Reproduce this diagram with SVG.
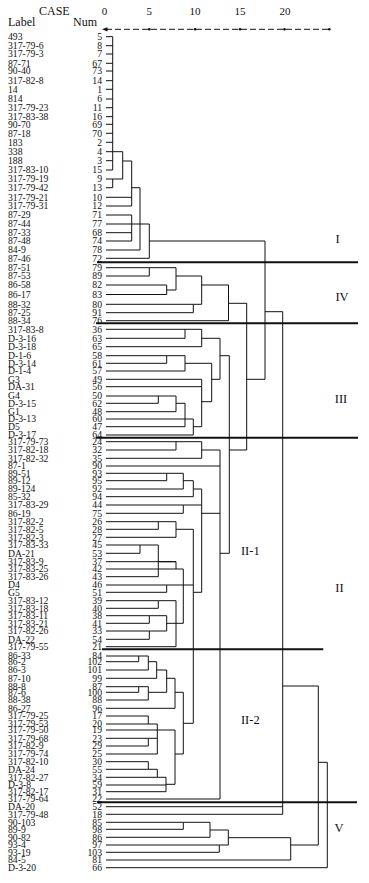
<svg xmlns="http://www.w3.org/2000/svg" width="369" height="883" viewBox="0 0 369 883">
<style>
text{font-family:"Liberation Serif","Times New Roman",serif;fill:#111}
.lb{font-size:9.7px}
.nm{font-size:9.7px;text-anchor:end}
.hd{font-size:12px}
.ax{font-size:11px;text-anchor:middle}
.cl{font-size:12.5px;text-anchor:middle}
.ln{fill:none;stroke:#111;stroke-width:1}
.sep{fill:none;stroke:#111;stroke-width:2}
.axl{fill:none;stroke:#111;stroke-width:1;stroke-dasharray:6 3}
</style>
<rect width="369" height="883" fill="#fff"/>
<g id="header">
<text class="hd" x="39" y="15">CASE</text>
<text class="hd" x="8" y="26">Label</text>
<text class="hd" x="73" y="26">Num</text>
<text class="ax" x="104.5" y="15">0</text>
<text class="ax" x="149.3" y="15">5</text>
<text class="ax" x="195" y="15">10</text>
<text class="ax" x="240" y="15">15</text>
<text class="ax" x="285" y="15">20</text>
<path class="axl" d="M106 29.3H329.3"/>
<polygon points="102,29.3 107.5,27.2 107.5,31.4" fill="#111"/>
<g fill="#111"><circle cx="149.3" cy="29.3" r="1.3"/><circle cx="195" cy="29.3" r="1.3"/><circle cx="240" cy="29.3" r="1.3"/><circle cx="284.5" cy="29.3" r="1.3"/><circle cx="329.3" cy="29.3" r="1.3"/></g>
</g>
<g id="leaves">
<g id="case-5"><text class="lb" x="8" y="40">493</text><text class="nm" x="102" y="40">5</text></g>
<g id="case-8"><text class="lb" x="8" y="49">317-79-6</text><text class="nm" x="102" y="49">8</text></g>
<g id="case-7"><text class="lb" x="8" y="57.3">317-79-3</text><text class="nm" x="102" y="57.3">7</text></g>
<g id="case-67"><text class="lb" x="8" y="66.6">87-71</text><text class="nm" x="102" y="66.6">67</text></g>
<g id="case-73"><text class="lb" x="8" y="74.3">90-40</text><text class="nm" x="102" y="74.3">73</text></g>
<g id="case-14"><text class="lb" x="8" y="84">317-82-8</text><text class="nm" x="102" y="84">14</text></g>
<g id="case-1"><text class="lb" x="8" y="92.6">14</text><text class="nm" x="102" y="92.6">1</text></g>
<g id="case-6"><text class="lb" x="8" y="102.3">814</text><text class="nm" x="102" y="102.3">6</text></g>
<g id="case-11"><text class="lb" x="8" y="111">317-79-23</text><text class="nm" x="102" y="111">11</text></g>
<g id="case-16"><text class="lb" x="8" y="120">317-83-38</text><text class="nm" x="102" y="120">16</text></g>
<g id="case-69"><text class="lb" x="8" y="127.6">90-70</text><text class="nm" x="102" y="127.6">69</text></g>
<g id="case-70"><text class="lb" x="8" y="136.6">87-18</text><text class="nm" x="102" y="136.6">70</text></g>
<g id="case-2"><text class="lb" x="8" y="145.6">183</text><text class="nm" x="102" y="145.6">2</text></g>
<g id="case-4"><text class="lb" x="8" y="155">338</text><text class="nm" x="102" y="155">4</text></g>
<g id="case-3"><text class="lb" x="8" y="164">188</text><text class="nm" x="102" y="164">3</text></g>
<g id="case-15"><text class="lb" x="8" y="173.3">317-83-10</text><text class="nm" x="102" y="173.3">15</text></g>
<g id="case-9"><text class="lb" x="8" y="182.3">317-79-19</text><text class="nm" x="102" y="182.3">9</text></g>
<g id="case-13"><text class="lb" x="8" y="191">317-79-42</text><text class="nm" x="102" y="191">13</text></g>
<g id="case-10"><text class="lb" x="8" y="200.6">317-79-21</text><text class="nm" x="102" y="200.6">10</text></g>
<g id="case-12"><text class="lb" x="8" y="209.3">317-79-31</text><text class="nm" x="102" y="209.3">12</text></g>
<g id="case-71"><text class="lb" x="8" y="218.3">87-29</text><text class="nm" x="102" y="218.3">71</text></g>
<g id="case-77"><text class="lb" x="8" y="227.3">87-44</text><text class="nm" x="102" y="227.3">77</text></g>
<g id="case-68"><text class="lb" x="8" y="236">87-33</text><text class="nm" x="102" y="236">68</text></g>
<g id="case-74"><text class="lb" x="8" y="244.3">87-48</text><text class="nm" x="102" y="244.3">74</text></g>
<g id="case-78"><text class="lb" x="8" y="253.3">84-9</text><text class="nm" x="102" y="253.3">78</text></g>
<g id="case-72"><text class="lb" x="8" y="261.6">87-46</text><text class="nm" x="102" y="261.6">72</text></g>
<g id="case-79"><text class="lb" x="8" y="271">87-51</text><text class="nm" x="102" y="271">79</text></g>
<g id="case-89"><text class="lb" x="8" y="279.3">87-53</text><text class="nm" x="102" y="279.3">89</text></g>
<g id="case-82"><text class="lb" x="8" y="288.3">86-58</text><text class="nm" x="102" y="288.3">82</text></g>
<g id="case-83"><text class="lb" x="8" y="297.8">86-17</text><text class="nm" x="102" y="297.8">83</text></g>
<g id="case-80"><text class="lb" x="8" y="307.6">88-32</text><text class="nm" x="102" y="307.6">80</text></g>
<g id="case-91"><text class="lb" x="8" y="316">87-25</text><text class="nm" x="102" y="316">91</text></g>
<g id="case-76"><text class="lb" x="8" y="324">88-34</text><text class="nm" x="102" y="324">76</text></g>
<g id="case-36"><text class="lb" x="8" y="332.6">317-83-8</text><text class="nm" x="102" y="332.6">36</text></g>
<g id="case-63"><text class="lb" x="8" y="341.6">D-3-16</text><text class="nm" x="102" y="341.6">63</text></g>
<g id="case-65"><text class="lb" x="8" y="350">D-3-18</text><text class="nm" x="102" y="350">65</text></g>
<g id="case-58"><text class="lb" x="8" y="359">D-1-6</text><text class="nm" x="102" y="359">58</text></g>
<g id="case-61"><text class="lb" x="8" y="366.6">D-3-14</text><text class="nm" x="102" y="366.6">61</text></g>
<g id="case-57"><text class="lb" x="8" y="374.3">D-1-4</text><text class="nm" x="102" y="374.3">57</text></g>
<g id="case-49"><text class="lb" x="8" y="382.6">G3</text><text class="nm" x="102" y="382.6">49</text></g>
<g id="case-56"><text class="lb" x="8" y="390">DA-31</text><text class="nm" x="102" y="390">56</text></g>
<g id="case-50"><text class="lb" x="8" y="399.3">G4</text><text class="nm" x="102" y="399.3">50</text></g>
<g id="case-62"><text class="lb" x="8" y="406.6">D-3-15</text><text class="nm" x="102" y="406.6">62</text></g>
<g id="case-48"><text class="lb" x="8" y="415">G1</text><text class="nm" x="102" y="415">48</text></g>
<g id="case-60"><text class="lb" x="8" y="422.3">D-3-13</text><text class="nm" x="102" y="422.3">60</text></g>
<g id="case-47"><text class="lb" x="8" y="430">D5</text><text class="nm" x="102" y="430">47</text></g>
<g id="case-64"><text class="lb" x="8" y="438.3">D-3-17</text><text class="nm" x="102" y="438.3">64</text></g>
<g id="case-24"><text class="lb" x="8" y="445">317-79-73</text><text class="nm" x="102" y="445">24</text></g>
<g id="case-32"><text class="lb" x="8" y="453.3">317-82-18</text><text class="nm" x="102" y="453.3">32</text></g>
<g id="case-35"><text class="lb" x="8" y="461.6">317-82-32</text><text class="nm" x="102" y="461.6">35</text></g>
<g id="case-90"><text class="lb" x="8" y="469.3">87-1</text><text class="nm" x="102" y="469.3">90</text></g>
<g id="case-93"><text class="lb" x="8" y="476.6">89-51</text><text class="nm" x="102" y="476.6">93</text></g>
<g id="case-95"><text class="lb" x="8" y="484">89-12</text><text class="nm" x="102" y="484">95</text></g>
<g id="case-92"><text class="lb" x="8" y="492.3">89-124</text><text class="nm" x="102" y="492.3">92</text></g>
<g id="case-94"><text class="lb" x="8" y="500">85-32</text><text class="nm" x="102" y="500">94</text></g>
<g id="case-44"><text class="lb" x="8" y="508.3">317-83-29</text><text class="nm" x="102" y="508.3">44</text></g>
<g id="case-75"><text class="lb" x="8" y="516.6">86-19</text><text class="nm" x="102" y="516.6">75</text></g>
<g id="case-26"><text class="lb" x="8" y="525">317-82-2</text><text class="nm" x="102" y="525">26</text></g>
<g id="case-28"><text class="lb" x="8" y="532.6">317-82-5</text><text class="nm" x="102" y="532.6">28</text></g>
<g id="case-27"><text class="lb" x="8" y="540.6">317-82-3</text><text class="nm" x="102" y="540.6">27</text></g>
<g id="case-45"><text class="lb" x="8" y="548.3">317-83-33</text><text class="nm" x="102" y="548.3">45</text></g>
<g id="case-53"><text class="lb" x="8" y="556.6">DA-21</text><text class="nm" x="102" y="556.6">53</text></g>
<g id="case-37"><text class="lb" x="8" y="565">317-83-9</text><text class="nm" x="102" y="565">37</text></g>
<g id="case-42"><text class="lb" x="8" y="572.3">317-83-25</text><text class="nm" x="102" y="572.3">42</text></g>
<g id="case-43"><text class="lb" x="8" y="580">317-83-26</text><text class="nm" x="102" y="580">43</text></g>
<g id="case-46"><text class="lb" x="8" y="588.3">D4</text><text class="nm" x="102" y="588.3">46</text></g>
<g id="case-51"><text class="lb" x="8" y="595.6">G5</text><text class="nm" x="102" y="595.6">51</text></g>
<g id="case-39"><text class="lb" x="8" y="604">317-83-12</text><text class="nm" x="102" y="604">39</text></g>
<g id="case-40"><text class="lb" x="8" y="611.6">317-83-18</text><text class="nm" x="102" y="611.6">40</text></g>
<g id="case-38"><text class="lb" x="8" y="619">317-83-11</text><text class="nm" x="102" y="619">38</text></g>
<g id="case-41"><text class="lb" x="8" y="626.6">317-83-21</text><text class="nm" x="102" y="626.6">41</text></g>
<g id="case-33"><text class="lb" x="8" y="634.3">317-82-26</text><text class="nm" x="102" y="634.3">33</text></g>
<g id="case-54"><text class="lb" x="8" y="642.6">DA-22</text><text class="nm" x="102" y="642.6">54</text></g>
<g id="case-21"><text class="lb" x="8" y="650">317-79-55</text><text class="nm" x="102" y="650">21</text></g>
<g id="case-84"><text class="lb" x="8" y="659.3">86-33</text><text class="nm" x="102" y="659.3">84</text></g>
<g id="case-102"><text class="lb" x="8" y="665">86-2</text><text class="nm" x="102" y="665">102</text></g>
<g id="case-101"><text class="lb" x="8" y="673.3">86-3</text><text class="nm" x="102" y="673.3">101</text></g>
<g id="case-99"><text class="lb" x="8" y="681.6">87-10</text><text class="nm" x="102" y="681.6">99</text></g>
<g id="case-87"><text class="lb" x="8" y="690">88-8</text><text class="nm" x="102" y="690">87</text></g>
<g id="case-100"><text class="lb" x="8" y="695.6">87-6</text><text class="nm" x="102" y="695.6">100</text></g>
<g id="case-88"><text class="lb" x="8" y="703.3">88-38</text><text class="nm" x="102" y="703.3">88</text></g>
<g id="case-96"><text class="lb" x="8" y="711.6">86-27</text><text class="nm" x="102" y="711.6">96</text></g>
<g id="case-17"><text class="lb" x="8" y="719.3">317-79-25</text><text class="nm" x="102" y="719.3">17</text></g>
<g id="case-20"><text class="lb" x="8" y="727.3">317-79-53</text><text class="nm" x="102" y="727.3">20</text></g>
<g id="case-19"><text class="lb" x="8" y="733.3">317-79-50</text><text class="nm" x="102" y="733.3">19</text></g>
<g id="case-23"><text class="lb" x="8" y="741.6">317-79-68</text><text class="nm" x="102" y="741.6">23</text></g>
<g id="case-29"><text class="lb" x="8" y="749.3">317-82-9</text><text class="nm" x="102" y="749.3">29</text></g>
<g id="case-25"><text class="lb" x="8" y="757.3">317-79-74</text><text class="nm" x="102" y="757.3">25</text></g>
<g id="case-30"><text class="lb" x="8" y="765">317-82-10</text><text class="nm" x="102" y="765">30</text></g>
<g id="case-55"><text class="lb" x="8" y="772.6">DA-24</text><text class="nm" x="102" y="772.6">55</text></g>
<g id="case-34"><text class="lb" x="8" y="780.6">317-82-27</text><text class="nm" x="102" y="780.6">34</text></g>
<g id="case-59"><text class="lb" x="8" y="788.3">D-3-8</text><text class="nm" x="102" y="788.3">59</text></g>
<g id="case-31"><text class="lb" x="8" y="795">317-82-17</text><text class="nm" x="102" y="795">31</text></g>
<g id="case-22"><text class="lb" x="8" y="802.3">317-79-64</text><text class="nm" x="102" y="802.3">22</text></g>
<g id="case-52"><text class="lb" x="8" y="810">DA-20</text><text class="nm" x="102" y="810">52</text></g>
<g id="case-18"><text class="lb" x="8" y="817.6">317-79-48</text><text class="nm" x="102" y="817.6">18</text></g>
<g id="case-85"><text class="lb" x="8" y="825.6">90-103</text><text class="nm" x="102" y="825.6">85</text></g>
<g id="case-98"><text class="lb" x="8" y="832.6">89-9</text><text class="nm" x="102" y="832.6">98</text></g>
<g id="case-86"><text class="lb" x="8" y="840.6">90-82</text><text class="nm" x="102" y="840.6">86</text></g>
<g id="case-97"><text class="lb" x="8" y="848.3">93-4</text><text class="nm" x="102" y="848.3">97</text></g>
<g id="case-103"><text class="lb" x="8" y="855.6">93-19</text><text class="nm" x="102" y="855.6">103</text></g>
<g id="case-81"><text class="lb" x="8" y="863.3">84-5</text><text class="nm" x="102" y="863.3">81</text></g>
<g id="case-66"><text class="lb" x="8" y="871">D-3-20</text><text class="nm" x="102" y="871">66</text></g>
</g>
<g id="connectors">
<path class="ln" d="M106 36.7H112.7M106 45.7H112.7M106 54H112.7M106 63.3H112.7M106 71H112.7M106 80.7H112.7M106 89.3H112.7M106 99H112.7M106 107.7H112.7M106 116.7H112.7M106 124.3H112.7M106 133.3H112.7M106 142.3H112.7M106 151.7H112.7M106 160.7H112.7M106 170H112.7M106 179H112.7M106 187.7H112.7M106 197.3H131.7M106 206H131.7M106 215H131.7M106 224H131.7M106 232.7H131.7M106 241H131.7M106 250H140M106 258.3H149.3M106 267.7H149.3M106 276H149.3M106 285H166.7M106 294.5H166.7M106 304.3H193.3M106 312.7H193.3M106 320.7H228.5M106 329.3H185M106 338.3H185M106 346.7H201.7M106 355.7H166.7M106 363.3H166.7M106 371H185M106 379.3H201.7M106 386.7H201.7M106 396H158.3M106 403.3H158.3M106 411.7H176M106 419H185M106 426.7H185M106 435H193.3M106 441.7H176M106 450H176M106 458.3H201.7M106 466H220M106 473.3H166.7M106 480.7H166.7M106 489H183.3M106 496.7H193.3M106 505H183.3M106 513.3H183.3M106 521.7H158.3M106 529.3H158.3M106 537.3H176M106 545H140M106 553.3H140M106 561.7H176M106 569H176M106 576.7H158.3M106 585H166.7M106 592.3H166.7M106 600.7H158.3M106 608.3H158.3M106 615.7H149.3M106 623.3H149.3M106 631H149.3M106 639.3H149.3M106 646.7H176M106 656H138.7M106 661.7H138.7M106 670H148.3M106 678.3H156.7M106 686.7H138.7M106 692.3H138.7M106 700H148.3M106 708.3H175M106 716H148.3M106 724H148.3M106 730H157.3M106 738.3H148.3M106 746H148.3M106 754H157.3M106 761.7H148.3M106 769.3H148.3M106 777.3H157.3M106 785H166M106 791.7H166M106 799H220M106 806.7H282.7M106 814.3H282.7M106 822.3H183.3M106 829.3H183.3M106 837.3H210M106 845H219.3M106 852.3H219.3M106 860H290.7M106 867.7H327.3"/>
<path class="ln" d="M112.7 36.7V170M112.7 151.7H122.7M112.7 179V187.7M112.7 179H122.7M122.7 151.7V179M122.7 161H131.7M131.7 161V206M131.7 187.7H140M131.7 215V241M131.7 224H140M140 187.7V250M140 224H149.3M149.3 224V258.3M149.3 241H265"/>
<path class="ln" d="M149.3 267.7V276M149.3 267.7H176M166.7 285V294.5M166.7 290H176M176 267.7V290M176 276H201.7M193.3 304.3V312.7M193.3 304.3H201.7M201.7 276V304.3M201.7 285H228.5M228.5 285V320.7M228.5 303.3H246.7"/>
<path class="ln" d="M185 329.3V338.3M185 329.3H201.7M201.7 329.3V346.7M201.7 338.3H220M166.7 355.7V363.3M166.7 355.7H185M185 355.7V371M185 363.3H211.7M158.3 396V403.3M158.3 396H176M176 396V411.7M176 403.3H185M185 403.3V426.7M185 419H193.3M193.3 419V435M193.3 426.7H201.7M201.7 379.3V426.7M201.7 401.7H211.7M211.7 363.3V401.7M211.7 379.3H220M220 338.3V379.3M220 355.7H229.3"/>
<path class="ln" d="M176 441.7V450M176 441.7H201.7M201.7 441.7V458.3M201.7 450H220M166.7 473.3V480.7M166.7 473.3H183.3M183.3 473.3V489M183.3 480.7H193.3M193.3 480.7V496.7M193.3 489H201.7M183.3 505V513.3M183.3 505H201.7M158.3 521.7V529.3M158.3 521.7H176M176 521.7V537.3M176 529.3H193.3M140 545V553.3M140 545H158.3M158.3 545V576.7M158.3 561.7H176M176 561.7V569M176 569H183.3M166.7 585V592.3M166.7 585H183.3M158.3 600.7V608.3M158.3 600.7H176M149.3 615.7V623.3M149.3 615.7H166.7M149.3 631V639.3M149.3 631H166.7M166.7 615.7V631M166.7 623.3H176M176 600.7V646.7M176 623.3H183.3M183.3 569V623.3M183.3 585H193.3"/>
<path class="ln" d="M138.7 656V661.7M138.7 656H148.3M148.3 656V670M148.3 661.7H156.7M156.7 661.7V678.3M156.7 670H166.7M138.7 686.7V692.3M138.7 686.7H148.3M148.3 686.7V700M148.3 692.3H166.7M166.7 670V692.3M166.7 678.3H175M175 678.3V708.3M175 692.3H183.3M148.3 716V724M148.3 724H157.3M148.3 738.3V746M148.3 738.3H157.3M157.3 724V754M157.3 730H175M148.3 761.7V769.3M148.3 769.3H157.3M157.3 769.3V777.3M157.3 777.3H166M166 777.3V791.7M166 784.3H175M175 730V784.3M175 754H183.3M183.3 692.3V754M183.3 723.3H193.3"/>
<path class="ln" d="M193.3 529.3V723.3M193.3 592.3H201.7M201.7 489V592.3M201.7 513.3H220M220 450V799M220 553.3H229.3M229.3 355.7V553.3M229.3 450H246.7M246.7 303.3V450M246.7 379.3H265M265 241V379.3M265 311.7H282.7M282.7 311.7V814.3M282.7 686H318.3"/>
<path class="ln" d="M183.3 822.3V829.3M183.3 822.3H210M210 822.3V837.3M210 830H228.3M219.3 845V852.3M219.3 845H228.3M228.3 830V845M228.3 837.7H290.7M290.7 837.7V860M290.7 845H318.3M318.3 686V845M318.3 762.3H327.3M327.3 762.3V867.7"/>
</g>
<g id="separators">
<path class="sep" d="M97 262.3H358M96 323.3H358M96 437.8H358M102 649.3H323.3M97 802.3H357"/>
</g>
<g id="cluster-labels">
<text class="cl" x="337.5" y="243.3">I</text>
<text class="cl" x="342" y="300.7">IV</text>
<text class="cl" x="341" y="403.3">III</text>
<text class="cl" x="250.3" y="555">II-1</text>
<text class="cl" x="339.5" y="591.7">II</text>
<text class="cl" x="250.3" y="724">II-2</text>
<text class="cl" x="339" y="832.3">V</text>
</g>
</svg>
